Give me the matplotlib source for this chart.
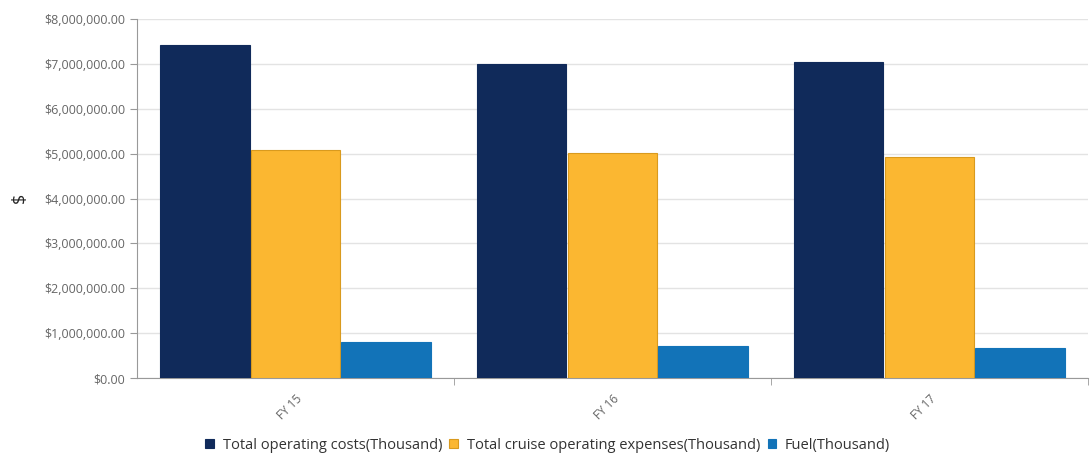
import numpy as np
import matplotlib
matplotlib.use("Agg")
import matplotlib.pyplot as plt
from matplotlib.ticker import FuncFormatter, FixedLocator

categories = ["FY 15", "FY 16", "FY 17"]
total_costs = [7420000, 6990000, 7040000]
cruise_expenses = [5080000, 5010000, 4920000]
fuel = [800000, 715000, 670000]

series = [
    ("Total operating costs(Thousand)", total_costs, "#102a5a", "#102a5a"),
    ("Total cruise operating expenses(Thousand)", cruise_expenses, "#fbb731", "#d99a1e"),
    ("Fuel(Thousand)", fuel, "#1273b8", "#1273b8"),
]

plt.rcParams["font.family"] = ["Open Sans", "DejaVu Sans"]

fig = plt.figure(figsize=(10.9, 4.55), dpi=100)
ax = fig.add_axes([0.1257, 0.169, 0.8723, 0.789])

x = np.arange(len(categories))
w = 0.286
for i, (name, vals, fc, ec) in enumerate(series):
    ax.bar(x + (i - 1) * w, vals, width=w - 0.004, color=fc, edgecolor=ec,
           linewidth=0.8, label=name, zorder=3)

ax.set_xlim(-0.5, 2.5)
ax.set_ylim(0, 8000000)
ax.set_yticks(np.arange(0, 8000001, 1000000))
ax.yaxis.set_major_formatter(FuncFormatter(lambda v, p: "${:,.2f}".format(v)))
ax.grid(axis="y", color="#e3e3e3", linewidth=1, zorder=0)

ax.set_xticks(x)
ax.set_xticklabels(categories, rotation=45, ha="right", rotation_mode="anchor",
                   color="#666666", fontsize=8.5)
ax.xaxis.set_minor_locator(FixedLocator([0.5, 1.5, 2.5]))
ax.tick_params(axis="x", which="major", length=0, pad=10)
ax.tick_params(axis="x", which="minor", length=5, color="#999999")
ax.tick_params(axis="y", length=5, color="#999999", labelcolor="#666666", labelsize=9)

for s in ["top", "right"]:
    ax.spines[s].set_visible(False)
for s in ["left", "bottom"]:
    ax.spines[s].set_color("#999999")

fig.text(0.018, 0.565, "$", rotation=90, ha="center", va="center", fontsize=13, color="#222222")

ax.legend(loc="upper center", bbox_to_anchor=(0.432, -0.13), ncol=3, frameon=False,
          fontsize=10.5, handlelength=0.6, handleheight=0.6, handletextpad=0.6,
          columnspacing=0.5, labelcolor="#333333")

fig.savefig("out.png", dpi=100)
